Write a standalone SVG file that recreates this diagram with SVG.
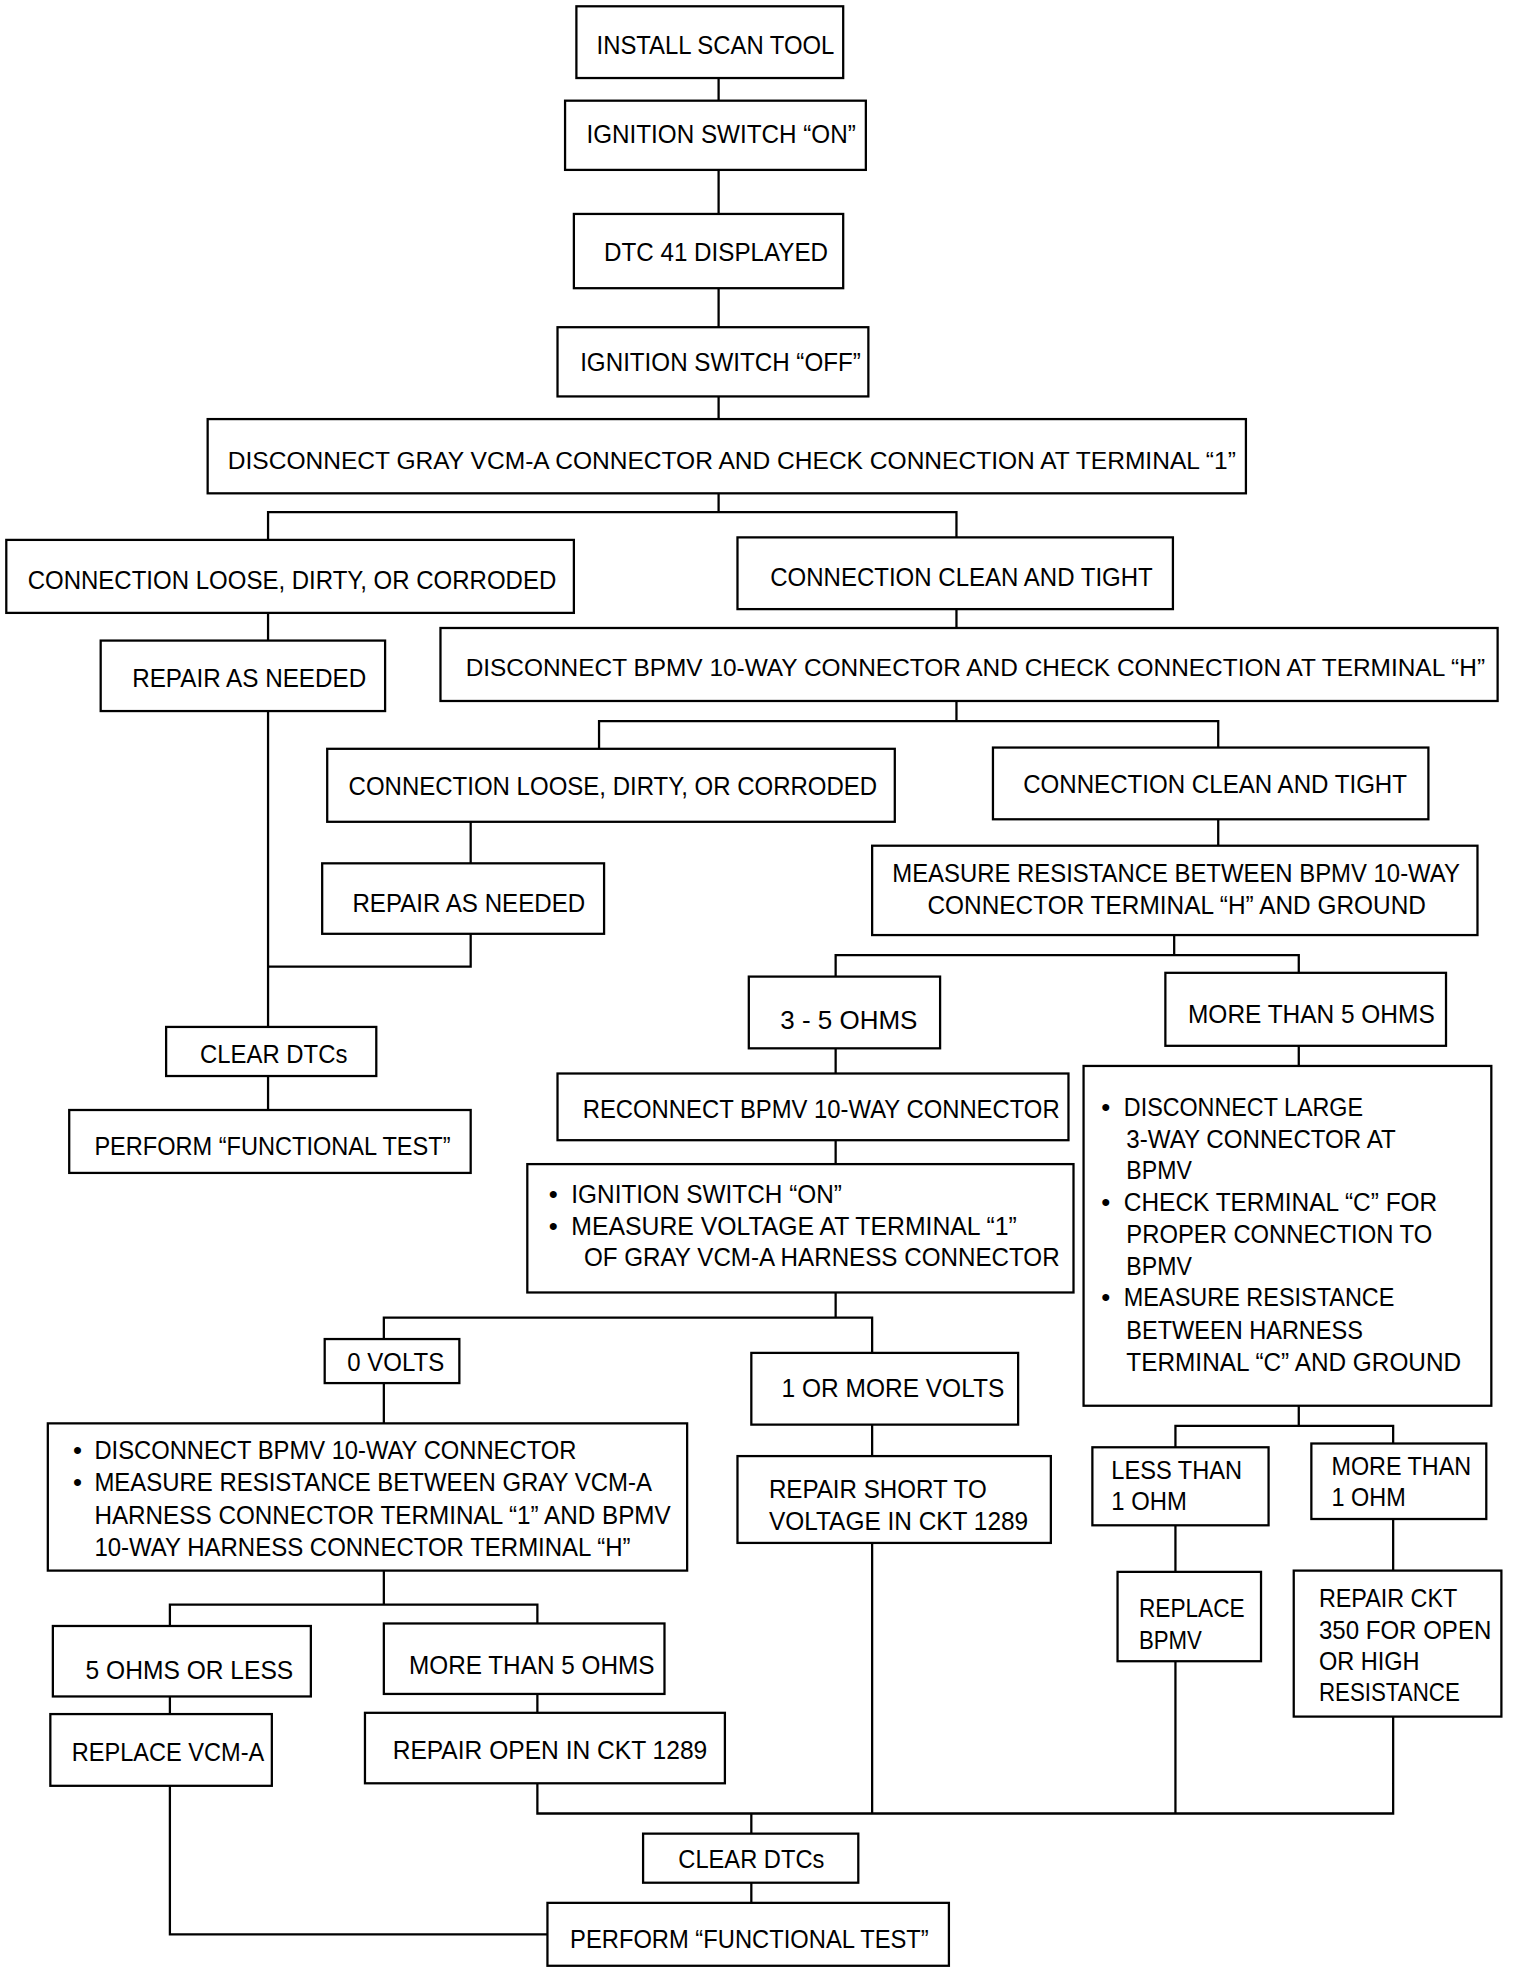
<svg xmlns="http://www.w3.org/2000/svg" width="1520" height="1974" viewBox="0 0 1520 1974">
<style>
.b{fill:#fff;stroke:#000;stroke-width:1.8}
.c{fill:none;stroke:#000;stroke-width:1.8}
text{font-family:"Liberation Sans",Arial,Helvetica,sans-serif;font-size:20.5px;fill:#000}
text.s{font-size:19px}
</style>
<rect width="1520" height="1974" fill="#fff"/>
<g transform="scale(1.2585)">
<g id="connectors" class="c">
<path d="M571 62V80M571 135V170M571 229V260M571 315V333"/>
<path d="M571 392V407M213 429V407H760V427"/>
<path d="M213 487V509M760 484V499"/>
<path d="M760 557V573M476 595V573H968V594"/>
<path d="M374 653V686M213 565V816M374 742V768H213M213 855V882"/>
<path d="M968 651V672M933 743V759M664 776V759H1032V773"/>
<path d="M664 833V853M664 906V925M1032 831V847"/>
<path d="M664 1027V1047M305 1064V1047H693V1075"/>
<path d="M305 1099V1131M693 1132V1157"/>
<path d="M305 1248V1275M135 1292V1275H427V1290"/>
<path d="M135 1348V1362M427 1346V1361"/>
<path d="M1032 1117V1133M934 1150V1133H1107V1147"/>
<path d="M934 1212V1249M1107 1207V1248"/>
<path d="M427 1417V1441H1107V1364M693 1226V1441M934 1320V1441"/>
<path d="M597 1441V1457M597 1496V1512"/>
<path d="M135 1419V1537H435"/>
</g>
<g id="n1"><rect class="b" x="458" y="5" width="212" height="57"/><text x="474" y="43" textLength="189" lengthAdjust="spacingAndGlyphs">INSTALL SCAN TOOL</text></g>
<g id="n2"><rect class="b" x="449" y="80" width="239" height="55"/><text x="466" y="114" textLength="214" lengthAdjust="spacingAndGlyphs">IGNITION SWITCH “ON”</text></g>
<g id="n3"><rect class="b" x="456" y="170" width="214" height="59"/><text x="480" y="207" textLength="178" lengthAdjust="spacingAndGlyphs">DTC 41 DISPLAYED</text></g>
<g id="n4"><rect class="b" x="443" y="260" width="247" height="55"/><text x="461" y="295" textLength="223" lengthAdjust="spacingAndGlyphs">IGNITION SWITCH “OFF”</text></g>
<g id="n5"><rect class="b" x="165" y="333" width="825" height="59"/><text class="s" x="181" y="373" textLength="801" lengthAdjust="spacingAndGlyphs">DISCONNECT GRAY VCM-A CONNECTOR AND CHECK CONNECTION AT TERMINAL “1”</text></g>
<g id="n6"><rect class="b" x="5" y="429" width="451" height="58"/><text x="22" y="468" textLength="420" lengthAdjust="spacingAndGlyphs">CONNECTION LOOSE, DIRTY, OR CORRODED</text></g>
<g id="n7"><rect class="b" x="586" y="427" width="346" height="57"/><text x="612" y="466" textLength="304" lengthAdjust="spacingAndGlyphs">CONNECTION CLEAN AND TIGHT</text></g>
<g id="n8"><rect class="b" x="80" y="509" width="226" height="56"/><text x="105" y="546" textLength="186" lengthAdjust="spacingAndGlyphs">REPAIR AS NEEDED</text></g>
<g id="n9"><rect class="b" x="350" y="499" width="840" height="58"/><text class="s" x="370" y="537" textLength="810" lengthAdjust="spacingAndGlyphs">DISCONNECT BPMV 10-WAY CONNECTOR AND CHECK CONNECTION AT TERMINAL “H”</text></g>
<g id="n10"><rect class="b" x="260" y="595" width="451" height="58"/><text x="277" y="632" textLength="420" lengthAdjust="spacingAndGlyphs">CONNECTION LOOSE, DIRTY, OR CORRODED</text></g>
<g id="n11"><rect class="b" x="789" y="594" width="346" height="57"/><text x="813" y="630" textLength="305" lengthAdjust="spacingAndGlyphs">CONNECTION CLEAN AND TIGHT</text></g>
<g id="n12"><rect class="b" x="256" y="686" width="224" height="56"/><text x="280" y="725" textLength="185" lengthAdjust="spacingAndGlyphs">REPAIR AS NEEDED</text></g>
<g id="n13"><rect class="b" x="132" y="816" width="167" height="39"/><text x="159" y="845" textLength="117" lengthAdjust="spacingAndGlyphs">CLEAR DTCs</text></g>
<g id="n14"><rect class="b" x="55" y="882" width="319" height="50"/><text x="75" y="918" textLength="283" lengthAdjust="spacingAndGlyphs">PERFORM “FUNCTIONAL TEST”</text></g>
<g id="n15"><rect class="b" x="693" y="672" width="481" height="71"/><text x="709" y="701" textLength="451" lengthAdjust="spacingAndGlyphs">MEASURE RESISTANCE BETWEEN BPMV 10-WAY</text><text x="737" y="726" textLength="396" lengthAdjust="spacingAndGlyphs">CONNECTOR TERMINAL “H” AND GROUND</text></g>
<g id="n16"><rect class="b" x="595" y="776" width="152" height="57"/><text x="620" y="818" textLength="109" lengthAdjust="spacingAndGlyphs">3 - 5 OHMS</text></g>
<g id="n17"><rect class="b" x="926" y="773" width="223" height="58"/><text x="944" y="813" textLength="196" lengthAdjust="spacingAndGlyphs">MORE THAN 5 OHMS</text></g>
<g id="n18"><rect class="b" x="443" y="853" width="406" height="53"/><text x="463" y="888" textLength="379" lengthAdjust="spacingAndGlyphs">RECONNECT BPMV 10-WAY CONNECTOR</text></g>
<g id="n19"><rect class="b" x="419" y="925" width="434" height="102"/><text x="436" y="956">•</text><text x="454" y="956" textLength="215" lengthAdjust="spacingAndGlyphs">IGNITION SWITCH “ON”</text><text x="436" y="981">•</text><text x="454" y="981" textLength="354" lengthAdjust="spacingAndGlyphs">MEASURE VOLTAGE AT TERMINAL “1”</text><text x="464" y="1006" textLength="378" lengthAdjust="spacingAndGlyphs">OF GRAY VCM-A HARNESS CONNECTOR</text></g>
<g id="n20"><rect class="b" x="861" y="847" width="324" height="270"/><text x="875" y="887">•</text><text x="893" y="887" textLength="190" lengthAdjust="spacingAndGlyphs">DISCONNECT LARGE</text><text x="895" y="912" textLength="214" lengthAdjust="spacingAndGlyphs">3-WAY CONNECTOR AT</text><text x="895" y="937" textLength="52" lengthAdjust="spacingAndGlyphs">BPMV</text><text x="875" y="962">•</text><text x="893" y="962" textLength="249" lengthAdjust="spacingAndGlyphs">CHECK TERMINAL “C” FOR</text><text x="895" y="988" textLength="243" lengthAdjust="spacingAndGlyphs">PROPER CONNECTION TO</text><text x="895" y="1013" textLength="52" lengthAdjust="spacingAndGlyphs">BPMV</text><text x="875" y="1038">•</text><text x="893" y="1038" textLength="215" lengthAdjust="spacingAndGlyphs">MEASURE RESISTANCE</text><text x="895" y="1064" textLength="188" lengthAdjust="spacingAndGlyphs">BETWEEN HARNESS</text><text x="895" y="1089" textLength="266" lengthAdjust="spacingAndGlyphs">TERMINAL “C” AND GROUND</text></g>
<g id="n21"><rect class="b" x="258" y="1064" width="107" height="35"/><text x="276" y="1089" textLength="77" lengthAdjust="spacingAndGlyphs">0 VOLTS</text></g>
<g id="n22"><rect class="b" x="597" y="1075" width="212" height="57"/><text x="621" y="1110" textLength="177" lengthAdjust="spacingAndGlyphs">1 OR MORE VOLTS</text></g>
<g id="n23"><rect class="b" x="38" y="1131" width="508" height="117"/><text x="58" y="1159">•</text><text x="75" y="1159" textLength="383" lengthAdjust="spacingAndGlyphs">DISCONNECT BPMV 10-WAY CONNECTOR</text><text x="58" y="1185">•</text><text x="75" y="1185" textLength="443" lengthAdjust="spacingAndGlyphs">MEASURE RESISTANCE BETWEEN GRAY VCM-A</text><text x="75" y="1211" textLength="458" lengthAdjust="spacingAndGlyphs">HARNESS CONNECTOR TERMINAL “1” AND BPMV</text><text x="75" y="1236" textLength="426" lengthAdjust="spacingAndGlyphs">10-WAY HARNESS CONNECTOR TERMINAL “H”</text></g>
<g id="n24"><rect class="b" x="586" y="1157" width="249" height="69"/><text x="611" y="1190" textLength="173" lengthAdjust="spacingAndGlyphs">REPAIR SHORT TO</text><text x="611" y="1216" textLength="206" lengthAdjust="spacingAndGlyphs">VOLTAGE IN CKT 1289</text></g>
<g id="n25"><rect class="b" x="42" y="1292" width="205" height="56"/><text x="68" y="1334" textLength="165" lengthAdjust="spacingAndGlyphs">5 OHMS OR LESS</text></g>
<g id="n26"><rect class="b" x="305" y="1290" width="223" height="56"/><text x="325" y="1330" textLength="195" lengthAdjust="spacingAndGlyphs">MORE THAN 5 OHMS</text></g>
<g id="n27"><rect class="b" x="40" y="1362" width="176" height="57"/><text x="57" y="1399" textLength="153" lengthAdjust="spacingAndGlyphs">REPLACE VCM-A</text></g>
<g id="n28"><rect class="b" x="290" y="1361" width="286" height="56"/><text x="312" y="1398" textLength="250" lengthAdjust="spacingAndGlyphs">REPAIR OPEN IN CKT 1289</text></g>
<g id="n29"><rect class="b" x="868" y="1150" width="140" height="62"/><text x="883" y="1175" textLength="104" lengthAdjust="spacingAndGlyphs">LESS THAN</text><text x="883" y="1200" textLength="60" lengthAdjust="spacingAndGlyphs">1 OHM</text></g>
<g id="n30"><rect class="b" x="1042" y="1147" width="139" height="60"/><text x="1058" y="1172" textLength="111" lengthAdjust="spacingAndGlyphs">MORE THAN</text><text x="1058" y="1197" textLength="59" lengthAdjust="spacingAndGlyphs">1 OHM</text></g>
<g id="n31"><rect class="b" x="888" y="1249" width="114" height="71"/><text x="905" y="1285" textLength="84" lengthAdjust="spacingAndGlyphs">REPLACE</text><text x="905" y="1310" textLength="50" lengthAdjust="spacingAndGlyphs">BPMV</text></g>
<g id="n32"><rect class="b" x="1028" y="1248" width="165" height="116"/><text x="1048" y="1277" textLength="110" lengthAdjust="spacingAndGlyphs">REPAIR CKT</text><text x="1048" y="1302" textLength="137" lengthAdjust="spacingAndGlyphs">350 FOR OPEN</text><text x="1048" y="1327" textLength="80" lengthAdjust="spacingAndGlyphs">OR HIGH</text><text x="1048" y="1352" textLength="112" lengthAdjust="spacingAndGlyphs">RESISTANCE</text></g>
<g id="n33"><rect class="b" x="511" y="1457" width="171" height="39"/><text x="539" y="1484" textLength="116" lengthAdjust="spacingAndGlyphs">CLEAR DTCs</text></g>
<g id="n34"><rect class="b" x="435" y="1512" width="319" height="50"/><text x="453" y="1548" textLength="285" lengthAdjust="spacingAndGlyphs">PERFORM “FUNCTIONAL TEST”</text></g>
</g>
</svg>
